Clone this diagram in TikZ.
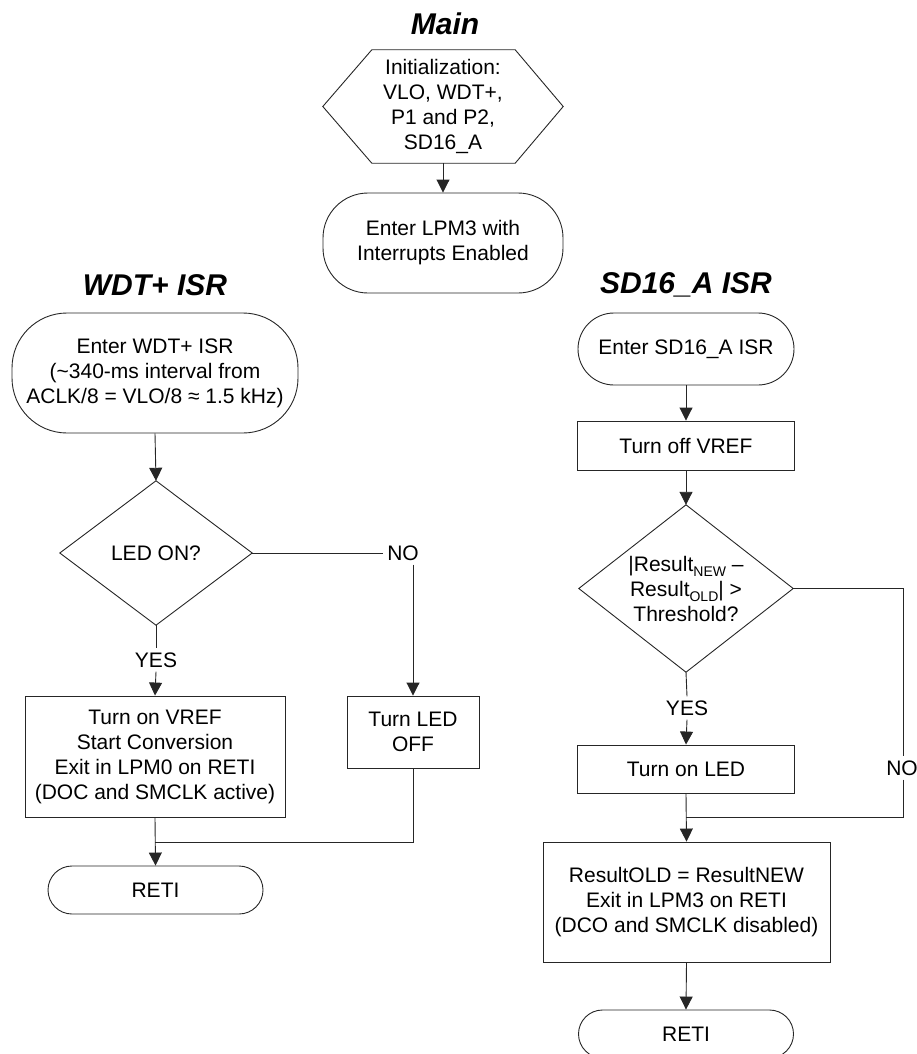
\documentclass[tikz,border=0pt]{standalone}
\usepackage{fontspec}
\setmainfont{Liberation Sans}
\usetikzlibrary{arrows.meta,calc}
\newcommand\mysub[1]{\raisebox{-0.45ex}{\fontsize{14}{14}\selectfont #1}}
\begin{document}
\begin{tikzpicture}[x=1pt,y=-1pt,
  every node/.style={font=\fontsize{21}{25}\selectfont, align=center, inner sep=0pt, text=black},
  ttl/.style={font=\fontsize{30}{34}\selectfont\bfseries\itshape},
  ln/.style={line width=0.9pt, draw=black!85},
  box/.style={ln, draw, minimum width=#1},
  term/.style={ln, draw, rounded corners=#1},
  ghost/.style={inner sep=0pt},
  lbl/.style={inner sep=4pt},
  arr/.style={ln, -{Triangle[width=13pt,length=13pt]}},
]
\useasboundingbox (0,0) rectangle (917,1054);

% ---------------- Main ----------------
\node[ttl] (tmain) at (445,24) {Main};
\node[ghost, minimum width=240pt, minimum height=113pt] (hx) at (443,106.5)
  {Initialization:\\VLO, WDT+,\\P1 and P2,\\SD16\_A};
\draw[ln] (hx.west) -- ($(hx.north west)+(49,0)$) -- ($(hx.north east)+(-48,0)$)
  -- (hx.east) -- ($(hx.south east)+(-48,0)$) -- ($(hx.south west)+(49,0)$) -- cycle;
\node[term=45pt, minimum width=240pt, minimum height=100pt] (lpm) at (443,243)
  {Enter LPM3 with\\Interrupts Enabled};
\draw[arr] (hx.south) -- (lpm.north);

% ---------------- WDT+ ISR ----------------
\node[ttl] (twdt) at (155,285) {WDT+ ISR};
\node[term=55pt, minimum width=286pt, minimum height=120pt] (wdt) at (155,373)
  {Enter WDT+ ISR\\(\textasciitilde 340-ms interval from\\ACLK/8 = VLO/8 ≈ 1.5 kHz)};
\node[ghost, minimum width=192pt, minimum height=144pt] (d1) at (156,553) {LED ON?};
\draw[ln] (d1.north) -- (d1.east) -- (d1.south) -- (d1.west) -- cycle;
\node[lbl] (no1) at (403,553) {NO};
\node[lbl] (yes1) at (156,660) {YES};
\node[box=260pt, minimum height=121pt] (von) at (155,756.5)
  {Turn on VREF\\Start Conversion\\Exit in LPM0 on RETI\\(DOC and SMCLK active)};
\node[box=132pt, minimum height=72pt] (off) at (413,732) {Turn LED\\OFF};
\node[term=24pt, minimum width=215pt, minimum height=48pt] (reti1) at (155.5,890) {RETI};
\coordinate (m1) at (155,842);

\draw[arr] (wdt.south) -- (d1.north);
\draw[ln] (d1.east) -- (no1.west);
\draw[arr] (no1.south -| off.north) -- (off.north);
\draw[ln] (d1.south) -- (yes1.north);
\draw[arr] (yes1.south) -- (von.north);
\draw[arr] (von.south) -- (reti1.north);
\draw[ln] (off.south) |- (m1);

% ---------------- SD16_A ISR ----------------
\node[ttl] (tsd) at (686,285) {SD16\_A ISR};
\node[term=36pt, minimum width=216pt, minimum height=72pt] (sd) at (686,349) {Enter SD16\_A ISR};
\node[box=217pt, minimum height=49pt] (toff) at (686,445.5) {Turn off VREF};
\node[ghost, minimum width=214pt, minimum height=167pt] (d2) at (686,588.5)
  {|Result\mysub{NEW} –\\Result\mysub{OLD}| >\\Threshold?};
\draw[ln] (d2.north) -- (d2.east) -- (d2.south) -- (d2.west) -- cycle;
\node[lbl] (yes2) at (687,708) {YES};
\node[lbl] (no2) at (902,768) {NO};
\node[box=217pt, minimum height=48pt] (ton) at (686,769) {Turn on LED};
\node[box=287pt, minimum height=120pt] (big) at (686.5,902)
  {ResultOLD = ResultNEW\\Exit in LPM3 on RETI\\(DCO and SMCLK disabled)};
\node[term=24pt, minimum width=215pt, minimum height=48pt] (reti2) at (686,1034) {RETI};
\coordinate (c2) at (903,588.5);
\coordinate (m2) at (686,817);

\draw[arr] (sd.south) -- (toff.north);
\draw[arr] (toff.south) -- (d2.north);
\draw[ln] (d2.south) -- (yes2.north);
\draw[arr] (yes2.south) -- (ton.north);
\draw[ln] (d2.east) -- (c2) -- (c2 |- no2.north);
\draw[ln] (c2 |- no2.south) |- (m2);
\draw[arr] (ton.south) -- (big.north);
\draw[arr] (big.south) -- (reti2.north);
\end{tikzpicture}
\end{document}
